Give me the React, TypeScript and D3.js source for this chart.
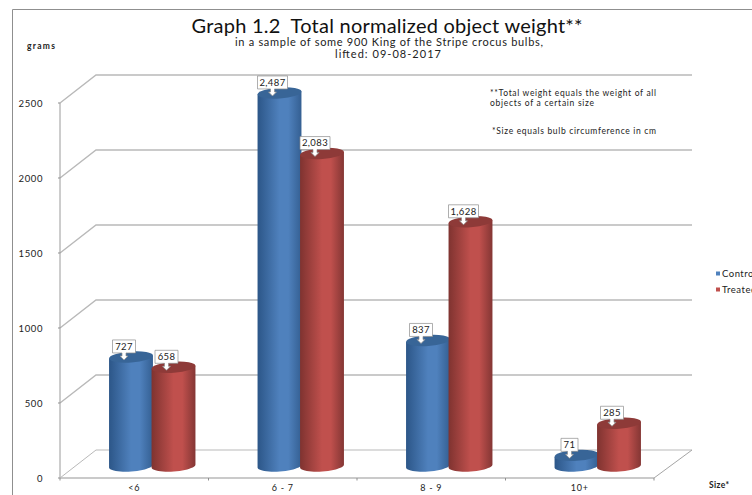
import React from "react";
import * as d3 from "d3";

const categories = ["<6", "6 - 7", "8 - 9", "10+"];
const seriesNames = ["Control", "Treated"];
const controlValues = [727, 2487, 837, 71];
const treatedValues = [658, 2083, 1628, 285];
const controlLabels = ["727", "2,487", "837", "71"];
const treatedLabels = ["658", "2,083", "1,628", "285"];
const yTicks = [0, 500, 1000, 1500, 2000, 2500];
const colors = {
  Control: { edge: "#2c5688", mid: "#4f81bd", right: "#345f92", top: "#386597" },
  Treated: { edge: "#7f3330", mid: "#c0504d", right: "#843634", top: "#8e3a38" },
};

const W = 752, H = 495;
const FONT = "Lato, 'Open Sans', sans-serif";
const x0 = 60, x1 = 654, dx = 36, dy = -28;
const yFront = d3.scaleLinear().domain([0, 2500]).range([478, 103]);
const yBar = d3.scaleLinear().domain([0, 2500]).range([466, 91]);
const xCat = d3.scaleBand<string>().domain(categories).range([x0, x1]);
const BAR_W = 44, OVERLAP = 1.5, BAR_SHIFT = 18, RY = 5.5, TILT = -4;
const TILT_RAD = (TILT * Math.PI) / 180;

function seriesCx(i: number, s: number) {
  const c = xCat(categories[i])! + xCat.bandwidth() / 2 + BAR_SHIFT;
  return c + (s === 0 ? -1 : 1) * (BAR_W / 2 - OVERLAP / 2);
}

// Point on the tilted ellipse at angle a (0 = right, PI/2 = lowest).
function ellipsePoint(cx: number, cy: number, a: number): [number, number] {
  const ex = (BAR_W / 2) * Math.cos(a), ey = RY * Math.sin(a);
  return [
    cx + ex * Math.cos(TILT_RAD) - ey * Math.sin(TILT_RAD),
    cy + ex * Math.sin(TILT_RAD) + ey * Math.cos(TILT_RAD),
  ];
}

const ARC_STEPS = d3.range(0, 25);

function Cylinder({ cx, value, name }: { cx: number; value: number; name: "Control" | "Treated" }) {
  const top = yBar(value), base = yBar(0);
  const lower = ARC_STEPS.map((k) => ellipsePoint(cx, base, (Math.PI * k) / 24));
  const upper = ellipsePoint(cx, top, Math.PI), upperR = ellipsePoint(cx, top, 0);
  const pts: [number, number][] = [upperR, ...lower, upper];
  const d = d3.line()(pts) + "Z";
  return (
    <g>
      <path d={d} fill={`url(#grad${name})`} />
      <ellipse cx={cx} cy={top} rx={BAR_W / 2} ry={RY} fill={colors[name].top}
        transform={`rotate(${TILT} ${cx} ${top})`} />
    </g>
  );
}

function Callout({ cx, value, label }: { cx: number; value: number; label: string }) {
  const tipX = cx - 7, tipY = yBar(value) + 3;
  const w = label.length > 3 ? 30 : label.length > 2 ? 23 : 17, h = 13;
  const by = tipY - 7 - h, l = tipX - w / 2, r = tipX + w / 2, b = by + h;
  const d = `M${l},${by} H${r} V${b} H${tipX + 2} V${b + 3} H${tipX + 4} L${tipX},${tipY} L${tipX - 4},${b + 3} H${tipX - 2} V${b} H${l} Z`;
  return (
    <g>
      <path d={d} fill="#fff" stroke="#8c8c8c" strokeWidth={0.7} />
      <text x={tipX} y={by + 9.8} textAnchor="middle" fontSize={9.5} fontFamily={FONT} fill="#222" letterSpacing={0.4}>{label}</text>
    </g>
  );
}

function Gradients() {
  return (
    <defs>
      {(["Control", "Treated"] as const).map((n) => (
        <linearGradient key={n} id={`grad${n}`} x1="0" x2="1" y1="0" y2="0">
          <stop offset="0" stopColor={colors[n].edge} />
          <stop offset="0.5" stopColor={colors[n].mid} />
          <stop offset="0.7" stopColor={colors[n].mid} />
          <stop offset="1" stopColor={colors[n].right} />
        </linearGradient>
      ))}
      <clipPath id="page"><rect x={0} y={0} width={W} height={H} /></clipPath>
    </defs>
  );
}

export default function App() {
  const catEdges = [...categories.map((c) => xCat(c)!), x1];
  return (
    <svg width={W} height={H} viewBox={`0 0 ${W} ${H}`}
      style={{ position: "absolute", left: 0, top: 0, background: "#fff" }}>
      <Gradients />
      <path d={`M12.5,${H} V9.5 H${W}`} fill="none" stroke="#8f8f8f" strokeWidth={1} />

      <text x={387} y={33} textAnchor="middle" fontSize={20} fontFamily={FONT} fill="#111" textLength={391} lengthAdjust="spacing" style={{ whiteSpace: "pre" }}>
        Graph 1.2  Total normalized object weight**
      </text>
      <text x={389} y={46} textAnchor="middle" fontSize={11} fontFamily={FONT} fill="#222" textLength={308} lengthAdjust="spacing">
        in a sample of some 900 King of the Stripe crocus bulbs,
      </text>
      <text x={388} y={58} textAnchor="middle" fontSize={11} fontFamily={FONT} fill="#222" textLength={106} lengthAdjust="spacing">
        lifted: 09-08-2017
      </text>
      <text x={27} y={49} fontSize={8.5} fontWeight={700} fontFamily={FONT} fill="#222" textLength={28}>grams</text>

      {yTicks.map((t) => (
        <g key={t}>
          <path d={`M${x0},${yFront(t)} L${x0 + dx},${yFront(t) + dy} H${x1 + dx + 2}`} fill="none"
            stroke="#b9b9b9" strokeWidth={t === 0 ? 1 : 1.4} />
          <line x1={x0 - 2} x2={x0} y1={yFront(t)} y2={yFront(t)} stroke="#8f8f8f" />
          <text x={43} y={yFront(t) + 3.5} textAnchor="end" fontSize={9.5} fontFamily={FONT} fill="#222" letterSpacing={0.6}>{t}</text>
        </g>
      ))}
      <line x1={x0} x2={x0} y1={yFront(2500)} y2={yFront(0)} stroke="#9a9a9a" />
      <line x1={x0} x2={x1} y1={yFront(0)} y2={yFront(0)} stroke="#b9b9b9" strokeWidth={1.5} />
      <line x1={x1} x2={x1 + dx + 2} y1={yFront(0)} y2={yFront(0) + dy} stroke="#a5a5a5" />
      {catEdges.map((e) => (
        <line key={e} x1={e} x2={e} y1={yFront(0)} y2={yFront(0) + 2.5} stroke="#8f8f8f" />
      ))}
      {categories.map((c) => (
        <text key={c} x={xCat(c)! + xCat.bandwidth() / 2} y={491} textAnchor="middle" fontSize={9} fontFamily={FONT} fill="#222" letterSpacing={0.7}>{c}</text>
      ))}

      {categories.map((c, i) => (
        <g key={c}>
          <Cylinder cx={seriesCx(i, 0)} value={controlValues[i]} name="Control" />
          <Cylinder cx={seriesCx(i, 1)} value={treatedValues[i]} name="Treated" />
        </g>
      ))}
      {categories.map((c, i) => (
        <g key={c}>
          <Callout cx={seriesCx(i, 0)} value={controlValues[i]} label={controlLabels[i]} />
          <Callout cx={seriesCx(i, 1)} value={treatedValues[i]} label={treatedLabels[i]} />
        </g>
      ))}

      <text x={490} y={96} fontSize={8.5} fontFamily={FONT} fill="#222" textLength={166}>**Total weight equals the weight of all</text>
      <text x={490} y={106} fontSize={8.5} fontFamily={FONT} fill="#222" textLength={104}>objects of a certain size</text>
      <text x={492} y={134} fontSize={8.5} fontFamily={FONT} fill="#222" textLength={164}>*Size equals bulb circumference in cm</text>

      <text x={709} y={488} fontSize={8.5} fontWeight={700} fontFamily={FONT} fill="#222" textLength={20}>Size*</text>

      <g clipPath="url(#page)">
        {seriesNames.map((n, i) => (
          <g key={n}>
            <rect x={716} y={271.5 + i * 16} width={4} height={4} fill={colors[n as "Control"].mid} />
            <text x={722} y={276.5 + i * 16} fontSize={9.5} fontFamily={FONT} fill="#222" letterSpacing={0.5}>{n}</text>
          </g>
        ))}
      </g>
    </svg>
  );
}
